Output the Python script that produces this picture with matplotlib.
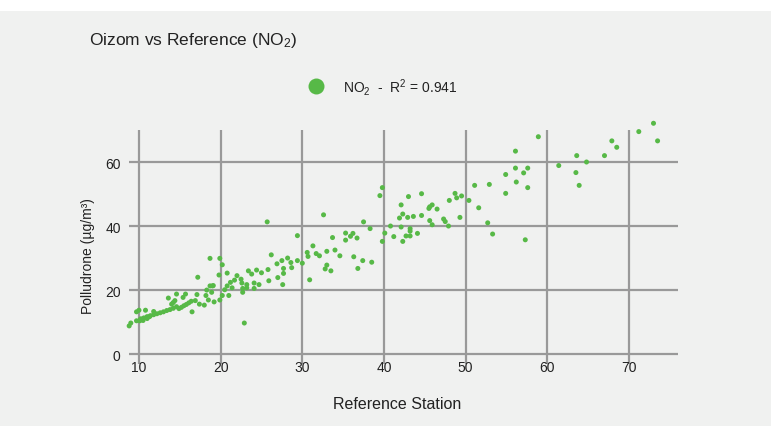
import matplotlib
matplotlib.use("Agg")
import matplotlib.pyplot as plt
from matplotlib.patches import Rectangle
from matplotlib.lines import Line2D

plt.rcParams['font.family'] = ['Liberation Sans', 'DejaVu Sans']
plt.rcParams['mathtext.fontset'] = 'custom'
plt.rcParams['mathtext.rm'] = 'Liberation Sans'
plt.rcParams['mathtext.it'] = 'Liberation Sans:italic'

# Reference station (x) vs Polludrone (y), NO2
x_ref = [8.8, 9.0, 9.7, 10.0, 9.7, 10.1, 10.3, 10.5, 10.2, 10.8, 11.0, 11.3, 11.8,
         10.6, 11.0, 11.4, 11.8, 12.2, 12.6, 13.0, 13.4, 13.8, 14.2, 14.6, 14.9, 15.2, 15.5, 15.8, 16.1, 16.4,
         13.6, 14.2, 14.4, 14.6, 14.0, 15.4, 15.7, 16.5, 16.9, 17.1, 17.2, 17.4, 18.0, 18.2, 18.3, 18.5,
         18.7, 18.9, 19.0, 18.7, 19.1, 19.2, 19.8, 19.9, 19.9, 20.2, 20.2, 20.5, 20.8, 20.8, 21.0, 21.2,
         21.4, 21.7, 22.0, 22.5, 22.6, 22.7, 22.7, 22.9, 23.2, 23.2, 23.4, 23.8, 24.1, 24.1, 24.4, 24.7,
         25.0, 25.7, 25.8, 25.9, 26.2, 26.9, 27.0, 27.5, 27.7, 27.7, 27.6, 28.2, 28.6, 28.7, 29.4, 29.4,
         30.0, 30.6, 30.7, 30.9, 31.3, 31.7, 32.1, 32.6, 32.8, 33.0, 33.0, 33.5, 33.7, 34.0, 34.6, 35.3,
         35.3, 35.9, 36.2, 36.3, 36.7, 36.8, 37.4, 37.5, 38.3, 38.5, 39.5, 39.8, 39.8, 40.1,
         40.8, 41.2, 41.9, 42.1, 42.1, 42.3, 42.3, 42.7, 42.9, 43.0, 43.2, 43.2, 43.2, 43.6, 44.1, 44.6,
         44.6, 45.5, 45.6, 45.9, 45.6, 45.9, 46.5, 47.3, 47.5, 47.9, 48.0, 48.7, 48.9, 49.3, 49.5, 50.4,
         51.1, 51.6, 52.7, 52.9, 53.3, 54.9, 54.9, 56.1, 56.1, 56.2, 57.1, 57.3, 57.6, 57.6, 58.9, 61.4,
         63.5, 63.6, 63.9, 64.8, 67.0, 67.9, 68.5, 71.2, 73.0, 73.5]
y_pol = [8.8, 9.7, 13.2, 13.7, 10.4, 10.4, 10.9, 10.5, 11.0, 13.7, 11.1, 11.7, 13.3,
         11.3, 11.7, 12.0, 12.3, 12.6, 12.9, 13.2, 13.6, 13.9, 14.3, 14.8, 14.2, 14.6, 15.1, 15.5, 16.0, 16.5,
         17.5, 16.1, 16.7, 18.75, 15.6, 17.7, 18.75, 13.2, 16.7, 18.6, 24.0, 15.6, 15.3, 18.3, 20.0, 16.9,
         21.3, 19.3, 21.3, 29.9, 21.4, 16.3, 24.7, 29.9, 16.9, 27.9, 18.3, 20.1, 25.3, 21.3, 18.3, 22.4,
         20.7, 23.1, 24.5, 23.4, 22.2, 20.5, 19.3, 9.7, 21.7, 20.7, 26.0, 25.0, 22.2, 20.5, 26.25, 21.7,
         25.4, 41.3, 26.4, 22.9, 31.0, 28.2, 23.9, 29.2, 26.75, 25.2, 21.7, 30.0, 28.6, 27.0, 37.0, 29.2,
         28.4, 31.75, 30.5, 23.2, 33.8, 31.4, 30.7, 43.5, 26.6, 27.8, 32.1, 26.0, 36.4, 32.5, 30.7, 37.8,
         35.6, 36.8, 37.7, 30.4, 36.25, 26.75, 29.2, 41.3, 39.2, 28.7, 49.5, 52.0, 35.2, 37.8,
         40.0, 36.7, 42.5, 39.7, 46.6, 43.75, 35.2, 36.9, 42.7, 49.2, 39.2, 38.4, 36.9, 43.0, 37.7, 43.3,
         50.1, 45.5, 46.0, 46.6, 41.7, 40.4, 45.3, 42.2, 41.4, 40.0, 48.0, 50.2, 48.8, 42.7, 49.4, 48.0,
         52.7, 45.7, 41.0, 53.0, 37.5, 56.1, 50.2, 63.4, 58.1, 53.75, 56.6, 35.7, 52.0, 58.1, 67.9, 58.9,
         56.7, 62.0, 52.7, 60.0, 62.0, 66.6, 64.6, 69.5, 72.1, 66.6]

x_ticks = [10, 20, 30, 40, 50, 60, 70]
y_ticks = [0, 20, 40, 60]

title = "Oizom vs Reference (NO$_\\mathrm{2}$)"
legend_label = "NO$_\\mathrm{2}$  -  R$^\\mathrm{2}$ = 0.941"
x_label = "Reference Station"
y_label = "Polludrone (µg/m³)"

green = "#57b947"
bg = "#f0f1f0"
grid_c = "#999999"

W, H = 771, 427
fig = plt.figure(figsize=(W / 100, H / 100), dpi=100)
fig.patch.set_facecolor("white")
fig.add_artist(Rectangle((0, 0), 1, 1 - 12 / H, transform=fig.transFigure,
                         facecolor=bg, edgecolor="none", zorder=-10))

l, r, t, b = 129, 678, 131, 365
ax = fig.add_axes([l / W, 1 - b / H, (r - l) / W, (b - t) / H])
ax.set_facecolor("none")
for s in ax.spines.values():
    s.set_visible(False)
ax.set_xlim(8.78, 76.0)
ax.set_ylim(-3.1, 70)
ax.set_xticks(x_ticks)
ax.set_yticks(y_ticks)
ax.grid(True, color=grid_c, linewidth=1.6)
ax.set_axisbelow(True)
ax.tick_params(axis='both', length=0, labelsize=10, colors="#222222")
ax.tick_params(axis='y', pad=6)
ax.tick_params(axis='x', pad=-3)

ax.scatter(x_ref, y_pol, s=13, color=green, edgecolors="none", zorder=3, clip_on=False)

fig.text(89 / W, 1 - 40 / H, title, fontsize=12.5, color="#222222", va="center", ha="left")
fig.text(88 / W, 1 - 256 / H, y_label, fontsize=10, color="#222222", rotation=90,
         va="center", ha="center")
fig.text(397 / W, 1 - 405 / H, x_label, fontsize=11.5, color="#222222", va="center", ha="center")

fig.add_artist(Line2D([316 / W], [1 - 87 / H], marker="o", markersize=11.5, color=green,
                      markeredgecolor="none", transform=fig.transFigure))
fig.text(343 / W, 1 - 87 / H, legend_label, fontsize=10, color="#222222", va="center", ha="left")

fig.savefig("out.png", dpi=100, facecolor=fig.get_facecolor())
